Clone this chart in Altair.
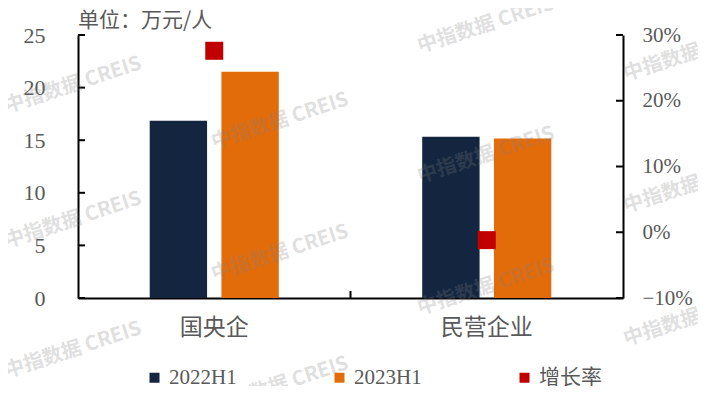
import altair as alt
import pandas as pd

# ---- data ----
categories = ["国央企", "民营企业"]
series_names = ["2022H1", "2023H1"]
growth_name = "增长率"
values_2022 = [16.85, 15.33]
values_2023 = [21.5, 15.15]
growth_rates = [0.276, -0.012]
left_ticks = [0, 5, 10, 15, 20, 25]
right_ticks = [-0.1, 0.0, 0.1, 0.2, 0.3]
unit_text = "单位：万元/人"
watermark_text = "中指数据 CREIS"

# ---- styling ----
colors = ["#13253F", "#E36C0A", "#C00000"]
W, H = 545, 263
SERIF = "Liberation Serif, Noto Sans CJK SC"
CJK = "Noto Sans CJK SC"
GREY = "#595959"
watermark_positions = [(-5, 50), (-5, 185), (-5, 315),
                       (210, -56), (202, 86), (202, 218), (202, 350),
                       (408, -10), (408, 120), (408, 252),
                       (614, 18), (614, 150), (614, 283)]

bar_df = pd.DataFrame({
    "category": categories * 2,
    "series": [series_names[0]] * len(categories) + [series_names[1]] * len(categories),
    "value": values_2022 + values_2023,
})
growth_df = pd.DataFrame({"category": categories, "series": growth_name, "rate": growth_rates})
left_tick_df = pd.DataFrame({"value": left_ticks})
right_tick_df = pd.DataFrame({"rate": right_ticks})
wm_df = pd.DataFrame({"px": [p[0] for p in watermark_positions],
                      "py": [p[1] for p in watermark_positions],
                      "t": watermark_text})
one_df = pd.DataFrame({"k": [0]})
unit_df = pd.DataFrame({"t": [unit_text]})

x_scale = alt.Scale(domain=categories, paddingInner=0, paddingOuter=0)
color_scale = alt.Scale(domain=series_names + [growth_name], range=colors)
left_scale = alt.Scale(domain=[0, 25], nice=False, zero=True)
right_scale = alt.Scale(domain=[-0.1, 0.3], nice=False, zero=False)

x_axis = alt.Axis(title=None, labelFont=CJK, labelFontSize=23, labelColor=GREY,
                  labelPadding=18, ticks=False, tickSize=0, domainColor="black",
                  domainWidth=2, labelAngle=0, grid=False)
left_axis = alt.Axis(title=None, orient="left", values=left_ticks, ticks=False, tickSize=0,
                     labelFont=SERIF, labelFontSize=22, labelColor=GREY,
                     labelPadding=33, domainColor="black", domainWidth=2, grid=False)
right_axis = alt.Axis(title=None, orient="right", values=right_ticks, format=".0%",
                      ticks=False, tickSize=0, labelFont=SERIF, labelFontSize=21,
                      labelColor=GREY, labelPadding=19, domainColor="black",
                      domainWidth=2, grid=False)
legend = alt.Legend(title=None, orient="none", legendX=66, legendY=332,
                    direction="horizontal", columns=3, columnPadding=92,
                    symbolType="square", symbolSize=100, symbolStrokeWidth=0,
                    labelFont=SERIF, labelFontSize=21, labelColor=GREY, labelOffset=4)

bars = alt.Chart(bar_df).mark_bar().encode(
    x=alt.X("category:N", scale=x_scale, axis=x_axis, sort=categories),
    xOffset=alt.XOffset("series:N", scale=alt.Scale(domain=series_names,
                                                    paddingInner=0.2, paddingOuter=1)),
    y=alt.Y("value:Q", scale=left_scale, axis=left_axis),
    color=alt.Color("series:N", scale=color_scale, legend=legend),
)

left_tick_marks = alt.Chart(left_tick_df).mark_rule(color="black", strokeWidth=2).encode(
    y=alt.Y("value:Q", scale=left_scale, axis=left_axis),
    x=alt.value(0), x2=alt.value(7),
)

mid_tick = alt.Chart(one_df).mark_rule(color="black", strokeWidth=2).encode(
    x=alt.value(W / 2), y=alt.value(H), y2=alt.value(H - 7),
)

squares = alt.Chart(growth_df).mark_square(size=324, opacity=1).encode(
    x=alt.X("category:N", scale=x_scale, axis=x_axis, sort=categories),
    y=alt.Y("rate:Q", scale=right_scale, axis=right_axis),
    color=alt.Color("series:N", scale=color_scale, legend=legend),
)

right_tick_marks = alt.Chart(right_tick_df).mark_rule(color="black", strokeWidth=2).encode(
    y=alt.Y("rate:Q", scale=right_scale, axis=right_axis),
    x=alt.value(W - 7), x2=alt.value(W),
)

unit_label = alt.Chart(unit_df).mark_text(
    font=CJK, fontSize=21, color=GREY, align="left", baseline="bottom",
).encode(x=alt.value(0), y=alt.value(-4), text="t:N")

watermarks = alt.Chart(wm_df).mark_text(
    font=CJK, fontSize=20, fontWeight="bold", color="#808080", opacity=0.24,
    angle=342, align="center", baseline="middle",
).encode(
    x=alt.X("px:Q", scale=None, axis=None),
    y=alt.Y("py:Q", scale=None, axis=None),
    text="t:N",
)

left_layer = alt.layer(bars, left_tick_marks, mid_tick)
right_layer = alt.layer(squares, right_tick_marks)

chart = alt.layer(left_layer, right_layer, unit_label, watermarks).resolve_scale(
    y="independent"
).properties(
    width=W, height=H,
    autosize=alt.AutoSizeParams(type="none"),
    padding={"left": 70, "top": 27, "right": 75, "bottom": 88},
).configure_view(stroke=None)

chart.save("out.html", embed_options={"renderer": "svg", "actions": False})
